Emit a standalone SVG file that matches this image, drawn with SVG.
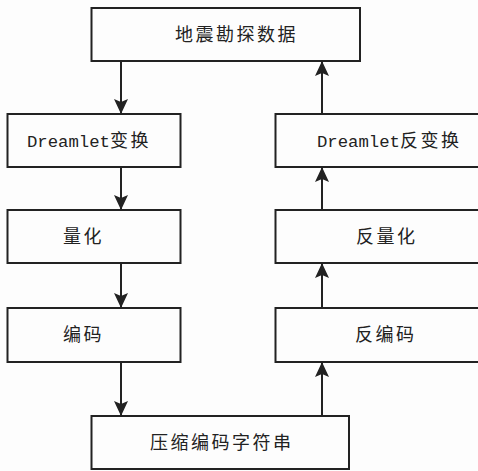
<svg xmlns="http://www.w3.org/2000/svg" width="478" height="471" viewBox="0 0 478 471">
<style>
.box{fill:#fdfdfd;stroke:#222;stroke-width:2}
.t{font-family:"Noto Sans CJK SC",sans-serif;font-size:18px;letter-spacing:2.5px;fill:#222}
.m{font-family:"Liberation Mono",monospace;font-size:17.3px;letter-spacing:0}
.c{stroke:#222;stroke-width:2;fill:none;marker-end:url(#ah)}
</style>
<defs>
<marker id="ah" viewBox="0 0 15 14" refX="15" refY="7" markerWidth="15" markerHeight="14" markerUnits="userSpaceOnUse" orient="auto">
<path d="M0,0 L15,7 L0,14 L3,7 Z" fill="#222"/>
</marker>
</defs>
<rect width="478" height="471" fill="#fdfdfd"/>
<g id="n1"><rect class="box" x="91.5" y="8" width="268.5" height="53"/><text class="t" x="175" y="41">地震勘探数据</text></g>
<g id="n2"><rect class="box" x="7.5" y="114" width="173" height="53"/><text class="t" x="27" y="147"><tspan class="m">Dreamlet</tspan>变换</text></g>
<g id="n3"><rect class="box" x="7.5" y="210" width="173" height="53"/><text class="t" x="63" y="243">量化</text></g>
<g id="n4"><rect class="box" x="7.5" y="308" width="173" height="54"/><text class="t" x="63" y="341">编码</text></g>
<g id="n5"><rect class="box" x="91.5" y="416" width="257.5" height="53"/><text class="t" x="150" y="449">压缩编码字符串</text></g>
<g id="n6"><rect class="box" x="275.5" y="308" width="210" height="54"/><text class="t" x="355" y="341">反编码</text></g>
<g id="n7"><rect class="box" x="275.5" y="210" width="210" height="53"/><text class="t" x="356" y="243">反量化</text></g>
<g id="n8"><rect class="box" x="275.5" y="114" width="210" height="53"/><text class="t" x="317" y="147"><tspan class="m">Dreamlet</tspan>反变换</text></g>
<g id="connectors">
<path class="c" d="M121,61 V114"/>
<path class="c" d="M121,167 V210"/>
<path class="c" d="M121,263 V308"/>
<path class="c" d="M121,362 V416"/>
<path class="c" d="M322,416 V362"/>
<path class="c" d="M322,308 V263"/>
<path class="c" d="M322,210 V167"/>
<path class="c" d="M322,114 V61"/>
</g>
</svg>
